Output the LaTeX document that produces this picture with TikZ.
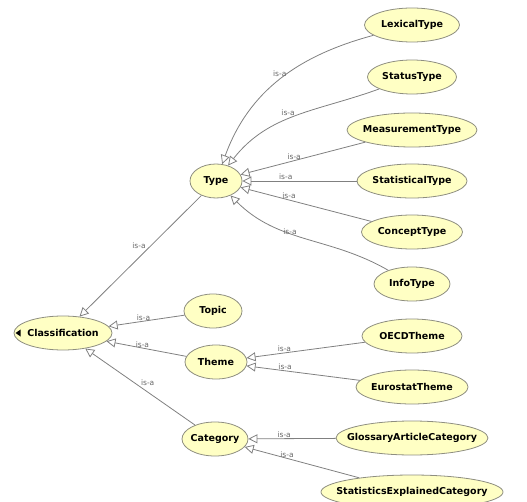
\documentclass[tikz,border=0pt]{standalone}
\usepackage{fontspec}
\setmainfont{DejaVu Sans}
\usetikzlibrary{shapes.geometric,arrows.meta}
\definecolor{classfill}{HTML}{FFFFC4}
\definecolor{classline}{HTML}{8E8E80}
\definecolor{isaline}{HTML}{808080}
\begin{document}
\begin{tikzpicture}
[x=1pt,y=1pt,
  classdecorate/.style={ellipse,draw=classline,fill=classfill,line width=0.8pt,
    minimum height=34pt,inner xsep=-15pt,inner ysep=0pt,
    font=\fontsize{9.5}{10}\selectfont\bfseries},
  linedecorate/.style={draw=isaline,line width=0.8pt,
    -{Triangle[open,length=9pt,width=9pt]}},
  labeldecorate/.style={font=\fontsize{7.5}{9}\selectfont,text=isaline!80!black,inner sep=0.5pt}]
\useasboundingbox (0,0) rectangle (527,501);
%% nodes or vertices
\foreach \nodename/\nodetext/\x/\y/\w in {cls/Classification/63/168/98,
  topic/Topic/213/190/58, theme/Theme/216/139/62, category/Category/215/62/66,
  type/Type/216/320/52, lexical/LexicalType/412/476/95, status/StatusType/412/424/89,
  measurement/MeasurementType/412/371/130, statistical/StatisticalType/412/320/110,
  concept/ConceptType/412/269/101, info/InfoType/412/217/76,
  oecd/OECDTheme/412/165/100, eurostat/EurostatTheme/412/114/112,
  glossary/GlossaryArticleCategory/412/63/152,
  explained/StatisticsExplainedCategory/412/9/182} {
  \node (\nodename) at (\x,\y) [classdecorate,minimum width=\w pt] {\nodetext};
}
\fill ([xshift=2pt]cls.west) -- ++(5,3.5) -- ++(0,-7) -- cycle;
%% edges or lines
\path
\foreach \startnode/\endnode/\where/\side in {type/cls/0.45/south east,
  topic/cls/0.54/south, theme/cls/0.55/south, category/cls/0.5/south west,
  measurement/type/0.57/south, statistical/type/0.62/south,
  concept/type/0.63/south, oecd/theme/0.68/south, eurostat/theme/0.66/south,
  glossary/category/0.59/south, explained/category/0.63/south} {
  (\startnode) edge[linedecorate] node[labeldecorate,pos=\where,anchor=\side] {is-a} (\endnode)
};
\path (lexical) edge[linedecorate,out=195,in=70]
    node[labeldecorate,pos=0.45,anchor=east] {is-a} (type)
  (status) edge[linedecorate,out=200,in=52]
    node[labeldecorate,pos=0.5,anchor=south east] {is-a} (type)
  (info) edge[linedecorate,out=150,in=-45]
    node[labeldecorate,pos=0.55,anchor=south east] {is-a} (type);
\end{tikzpicture}
\end{document}
